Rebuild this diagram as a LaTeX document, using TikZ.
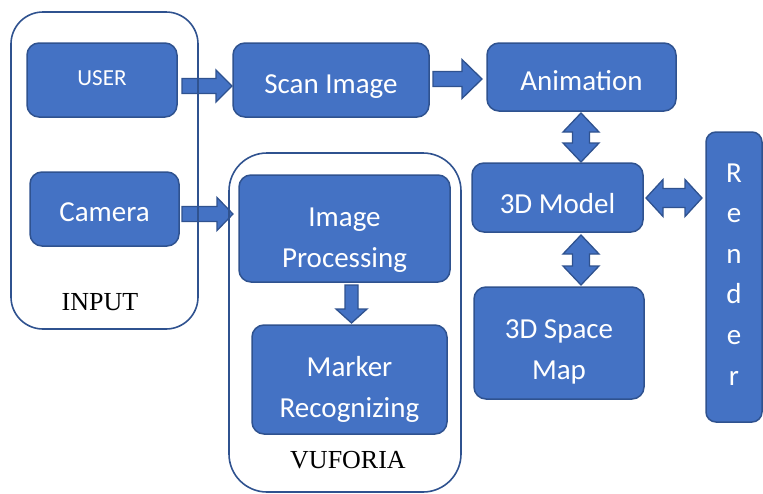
\documentclass[tikz,border=0pt]{standalone}
\usepackage{fontspec}
\setmainfont{Liberation Serif}
\newfontfamily\calfont{Carlito}
\usetikzlibrary{calc}
\definecolor{boxfill}{HTML}{4472C4}
\definecolor{boxline}{HTML}{2F528F}
\newcommand\blkarrow[5]{%
  \draw[barrow] ($(#1)!#3pt!90:(#2)$)
    -- ($(#2)!#5pt!(#1)!#3pt!90:(#2)$)
    -- ($(#2)!#5pt!(#1)!#4pt!90:(#2)$)
    -- (#2)
    -- ($(#2)!#5pt!(#1)!#4pt!-90:(#2)$)
    -- ($(#2)!#5pt!(#1)!#3pt!-90:(#2)$)
    -- ($(#1)!#3pt!-90:(#2)$) -- cycle;}
\newcommand\dblarrow[5]{%
  \draw[barrow] (#1)
    -- ($(#1)!#5pt!(#2)!#4pt!90:(#2)$)
    -- ($(#1)!#5pt!(#2)!#3pt!90:(#2)$)
    -- ($(#2)!#5pt!(#1)!#3pt!90:(#2)$)
    -- ($(#2)!#5pt!(#1)!#4pt!90:(#2)$)
    -- (#2)
    -- ($(#2)!#5pt!(#1)!#4pt!-90:(#2)$)
    -- ($(#2)!#5pt!(#1)!#3pt!-90:(#2)$)
    -- ($(#1)!#5pt!(#2)!#3pt!-90:(#2)$)
    -- ($(#1)!#5pt!(#2)!#4pt!-90:(#2)$)
    -- cycle;}
\tikzset{
  blk/.style={draw=boxline, fill=boxfill, line width=1.5pt, rounded corners=12pt,
    text=white, font=\calfont\fontsize{29}{40.5}\selectfont, align=center, inner sep=0pt},
  cont/.style={draw=boxline, line width=1.6pt, inner sep=0pt},
  barrow/.style={draw=boxline, fill=boxfill, line width=1.3pt, line join=miter},
  lbl/.style={font=\fontsize{26}{30}\selectfont, text=black, anchor=base, inner sep=0pt}
}
\begin{document}
\begin{tikzpicture}[x=1pt,y=-1pt]
\useasboundingbox (0,0) rectangle (763,493);
% boxes
\node[blk, minimum width=150pt, minimum height=74pt, text height=10pt, text depth=0pt,
  font=\calfont\fontsize{23}{28}\selectfont] (user) at (102,80) {USER};
\node[blk, minimum width=149pt, minimum height=74pt, text height=24pt, text depth=0pt] (camera) at (104.5,209) {Camera};
\node[blk, minimum width=196pt, minimum height=74pt, text height=26pt, text depth=0pt] (scan) at (331,80) {Scan Image};
\node[blk, minimum width=189pt, minimum height=68pt, text height=27pt, text depth=0pt] (anim) at (581.5,77) {Animation};
\node[blk, minimum width=171pt, minimum height=69pt, text height=31pt, text depth=0pt] (model) at (557.5,197.5) {3D Model};
\node[blk, minimum width=170pt, minimum height=112pt, text height=72pt, text depth=0pt] (space) at (559,343) {3D Space\\Map};
\node[blk, minimum width=211pt, minimum height=107pt, text height=77pt, text depth=0pt] (improc) at (344.5,228.5) {Image\\Processing};
\node[blk, minimum width=195pt, minimum height=109pt, text height=75pt, text depth=0pt] (marker) at (349.5,379.5) {Marker\\Recognizing};
\node[blk, minimum width=56pt, minimum height=290pt, rounded corners=10pt, text height=216pt, text depth=0pt,
  font=\calfont\fontsize{29}{40.6}\selectfont] (render) at (734,277) {R\\e\\n\\d\\e\\r};
% arrow anchor points
\coordinate (a1s) at (182,86);  \coordinate (a1e) at (232,86);
\coordinate (a2s) at (433,79);  \coordinate (a2e) at (482,79);
\coordinate (a3s) at (182,214); \coordinate (a3e) at (233,214);
\coordinate (a4s) at (351.5,285); \coordinate (a4e) at (351.5,323);
\coordinate (d1a) at (581,113); \coordinate (d1b) at (581,162);
\coordinate (d2a) at (581,235); \coordinate (d2b) at (581,285);
\coordinate (d3a) at (646,198); \coordinate (d3b) at (702,198);
\blkarrow{a1s}{a1e}{7.5}{16}{16}
\blkarrow{a2s}{a2e}{7.5}{19.5}{20}
\blkarrow{a3s}{a3e}{7.5}{16.5}{16}
\blkarrow{a4s}{a4e}{6.5}{15.5}{14}
\dblarrow{d1a}{d1b}{8.5}{18}{19}
\dblarrow{d2a}{d2b}{8.5}{18}{19}
\dblarrow{d3a}{d3b}{9.5}{18.5}{17}
% containers
\node[cont, minimum width=187pt, minimum height=317pt, rounded corners=32pt] (input) at (104.5,170.5) {};
\node[cont, minimum width=232pt, minimum height=339pt, rounded corners=38pt] (vuforia) at (345,322.5) {};
\node[lbl] (inputlbl) at (100,310) {INPUT};
\node[lbl] (vuflbl) at (348,468) {VUFORIA};
\end{tikzpicture}
\end{document}
